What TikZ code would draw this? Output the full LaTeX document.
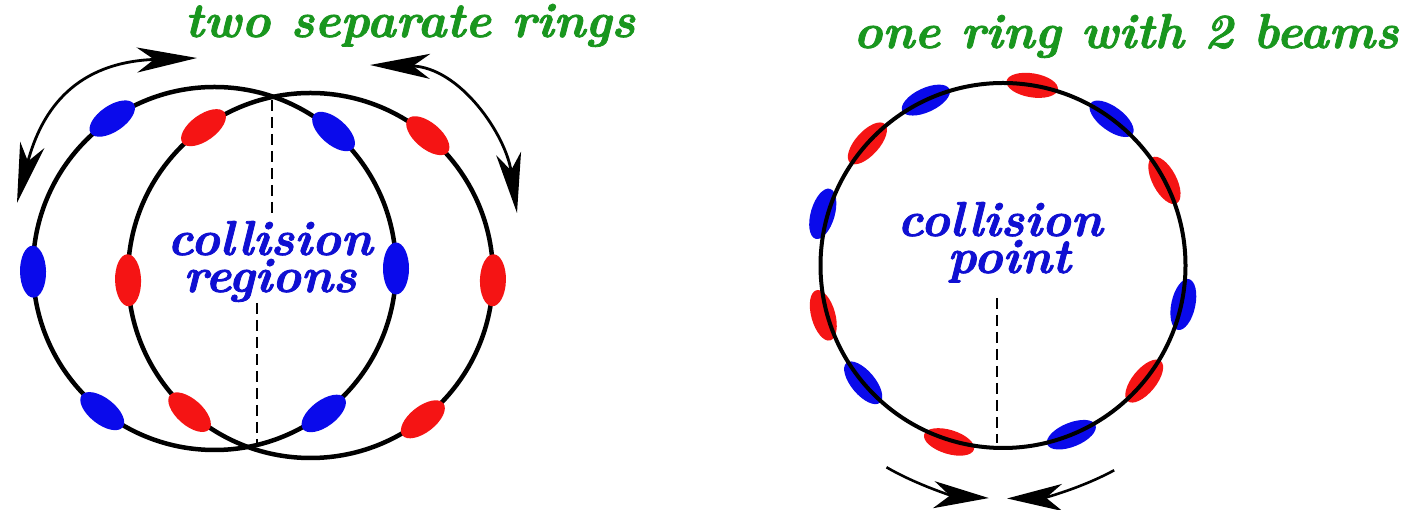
\documentclass[tikz,border=0pt]{standalone}
\usepackage{fontspec}
\newfontfamily\lblfont{lmroman10-bolditalic}[Extension=.otf, FakeBold=1.6]
\usetikzlibrary{arrows.meta}
\definecolor{tgreen}{RGB}{25,150,30}
\definecolor{tblue}{RGB}{15,15,210}
\definecolor{dblue}{RGB}{10,10,235}
\definecolor{dred}{RGB}{245,20,20}
\tikzset{
  ringline/.style={line width=4.5pt, draw=black},
  ringlineC/.style={line width=4pt, draw=black},
  bigtip/.tip={Stealth[length=60pt,width=25pt,inset=17pt]},
  smalltip/.tip={Stealth[length=55pt,width=27pt,inset=16pt]},
  turnarrow/.style={line width=2.8pt, draw=black, bigtip-bigtip},
  meetarrow/.style={line width=2.6pt, draw=black, -smalltip},
  cutline/.style={dash pattern=on 11pt off 6pt, line width=2pt, draw=black},
  lbl/.style={font=\fontsize{49}{37}\lblfont, inner sep=0pt, anchor=base, align=center},
  bunchA/.style={fill=dblue},
  bunchB/.style={fill=dred},
}
\newcommand\bunch[6]{% style, centre, angle, radius, half length, half width
  \fill[#1, shift={(#2)}, rotate=#3] (#4,0) ellipse[x radius=#6, y radius=#5];}
\begin{document}
\begin{tikzpicture}[x=1pt,y=1pt]
\useasboundingbox (0,0) rectangle (1410,510);
\fill[white] (0,0) rectangle (1410,510);
\coordinate (A) at (214.5,241.5);
\coordinate (B) at (310.5,234.5);
\coordinate (C) at (1003,244.5);

% ---------- left: two separate rings ----------
\draw[ringline] (A) circle[radius=181.5];
\draw[ringline] (B) circle[radius=182.5];
\foreach \a in {124.3,181,231.8,49,0,-53}{\bunch{bunchA}{A}{\a}{181.5}{26}{13}}
\foreach \a in {125.9,181.5,228.5,50,-1.5,-52}{\bunch{bunchB}{B}{\a}{182.5}{26}{13}}

\coordinate (cu1) at (272,410);
\coordinate (cu2) at (272,297);
\coordinate (cl1) at (257,207);
\coordinate (cl2) at (257,65);
\draw[cutline] (cu1) -- (cu2);
\draw[cutline] (cl1) -- (cl2);

\coordinate (la0) at (17,307);
\coordinate (la1) at (197,452);
\draw[turnarrow] (la0) .. controls (42,402) and (77,448) .. (la1);
\coordinate (ra0) at (370,445);
\coordinate (ra1) at (517,297);
\draw[turnarrow] (ra0) .. controls (460,443) and (506,375) .. (ra1);

\node[lbl, text=tgreen] (t1) at (410,473) {two separate rings};
\node[lbl, text=tblue] (c1) at (270,218) {collision\\regions};

% ---------- right: one ring with 2 beams ----------
\foreach \a/\o in {80.8/0,27.8/0,320.7/0,253/2,195.5/4,138/0}{\bunch{bunchB}{C}{\a}{182.5+\o}{26}{12}}
\foreach \a/\o in {53.5/0,347.8/2,292/0,220/0,164/5,115/0}{\bunch{bunchA}{C}{\a}{182.5+\o}{26}{12}}
\draw[ringlineC] (C) circle[radius=182.5];

\coordinate (cr1) at (997,212);
\coordinate (cr2) at (997,67);
\draw[cutline] (cr1) -- (cr2);

\draw[meetarrow] ([shift={(240:233)}]C) arc[start angle=240, end angle=266.5, radius=233];
\draw[meetarrow] ([shift={(298.5:233)}]C) arc[start angle=298.5, end angle=271, radius=233];

\node[lbl, text=tgreen] (t2) at (1126,462) {one ring with 2 beams};
\node[lbl, text=tblue] (c2) at (1000,237) {collision\\\hspace*{18pt}point};
\end{tikzpicture}
\end{document}
